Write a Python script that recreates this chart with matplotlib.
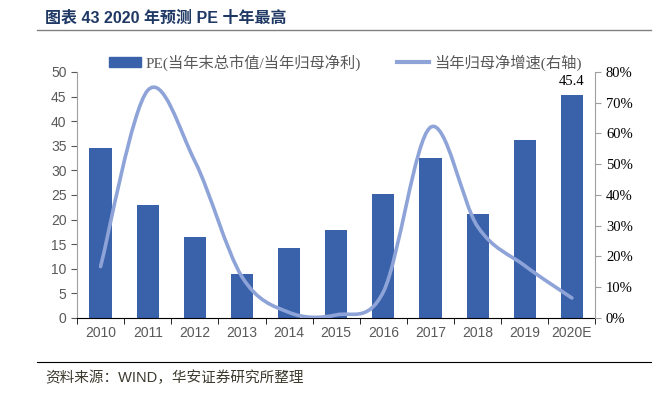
import matplotlib
matplotlib.use("Agg")
import matplotlib.pyplot as plt
from matplotlib.path import Path
from matplotlib.patches import PathPatch
from matplotlib.lines import Line2D
import numpy as np

years = ["2010", "2011", "2012", "2013", "2014", "2015", "2016",
         "2017", "2018", "2019", "2020E"]
pe = [34.5, 23.0, 16.5, 9.0, 14.3, 17.8, 25.2, 32.5, 21.2, 36.2, 45.4]
growth = [16.7, 74.0, 51.0, 13.4, 1.8, 1.0, 8.5, 62.0, 29.7, 17.0, 6.5]

BAR = "#3A62AA"
LINE = "#8EA3D8"
GRAY = "#595959"
CJK = ["Liberation Serif", "Noto Sans CJK SC"]

plt.rcParams["font.family"] = ["Liberation Sans", "Noto Sans CJK SC"]


def smooth_path(xs, ys):
    """Excel-style smoothed line as cubic Bezier segments."""
    pts = np.column_stack([xs, ys])
    n = len(pts)
    verts = [pts[0]]
    codes = [Path.MOVETO]
    for i in range(n - 1):
        p0 = pts[max(i - 1, 0)]
        p1 = pts[i]
        p2 = pts[i + 1]
        p3 = pts[min(i + 2, n - 1)]
        c1 = p1 + (p2 - p0) / 6.0
        c2 = p2 - (p3 - p1) / 6.0
        verts += [c1, c2, p2]
        codes += [Path.CURVE4] * 3
    return Path(verts, codes)


fig = plt.figure(figsize=(6.66, 3.95), dpi=100)
ax = fig.add_axes([0.1156, 0.195, 0.7785, 0.6228])
x = np.arange(len(years))

ax.bar(x, pe, width=0.47, color=BAR, zorder=2)
ax.set_xlim(-0.5, len(years) - 0.5)
ax.set_ylim(0, 50)
ax.set_yticks(np.arange(0, 51, 5))
ax.tick_params(axis="y", colors=GRAY, labelsize=10, length=4, direction="out")
ax.set_xticks(x)
ax.set_xticklabels(years)
ax.set_xticks(np.arange(-0.5, len(years), 1), minor=True)
ax.tick_params(axis="x", which="major", length=0, labelsize=10,
               labelcolor=GRAY, pad=6)
ax.tick_params(axis="x", which="minor", length=4, color="black")
for side in ("top", "right"):
    ax.spines[side].set_visible(False)
ax.spines["left"].set_color("#A0A0A0")
ax.spines["bottom"].set_color("black")
ax.spines["bottom"].set_zorder(5)

ax2 = ax.twinx()
ax2.set_ylim(0, 80)
ax2.set_yticks(np.arange(0, 81, 10))
ax2.set_yticklabels([f"{v}%" for v in range(0, 81, 10)],
                    family="Liberation Serif", fontsize=10.5)
ax2.tick_params(axis="y", colors="black", length=4, labelcolor="black")
ax2.spines["right"].set_color("#A0A0A0")
ax2.tick_params(axis="y", color="#A0A0A0")
for side in ("top", "left", "bottom"):
    ax2.spines[side].set_visible(False)
ax2.add_patch(PathPatch(smooth_path(x, growth), facecolor="none",
                        edgecolor=LINE, lw=2.6, capstyle="round", zorder=3))

ax.annotate(f"{pe[-1]:.1f}", (x[-1], pe[-1]), xytext=(0, 5),
            textcoords="offset points", ha="center", va="bottom",
            family="Liberation Serif", fontsize=10.5, color="black")

handles = [
    plt.Rectangle((0, 0), 1, 1, color=BAR),
    Line2D([0], [0], color=LINE, lw=3),
]
labels = ["PE(当年末总市值/当年归母净利)", "当年归母净增速(右轴)"]
leg = fig.legend(handles, labels, loc="center left", ncol=2,
                 bbox_to_anchor=(0.163, 0.842), frameon=False,
                 borderpad=0, borderaxespad=0,
                 prop={"family": CJK, "size": 11}, labelcolor=GRAY,
                 handlelength=2.1, handleheight=0.65, columnspacing=2.4,
                 handletextpad=0.3)

fig.text(0.068, 0.955, "图表 43 2020 年预测 PE 十年最高", fontsize=11.5,
         fontweight="bold", color="#1F3864", va="center",
         family=["Liberation Sans", "Noto Sans CJK SC"])
fig.add_artist(Line2D([0.056, 0.977], [0.924, 0.924], color="#808080", lw=1))
fig.add_artist(Line2D([0.056, 0.977], [0.084, 0.084], color="black", lw=0.8))
fig.text(0.068, 0.043, "资料来源：WIND，华安证券研究所整理", fontsize=10.5,
         color="#3D3A2E", va="center",
         family=["Liberation Sans", "Noto Sans CJK SC"])

fig.savefig("out.png", dpi=100)
